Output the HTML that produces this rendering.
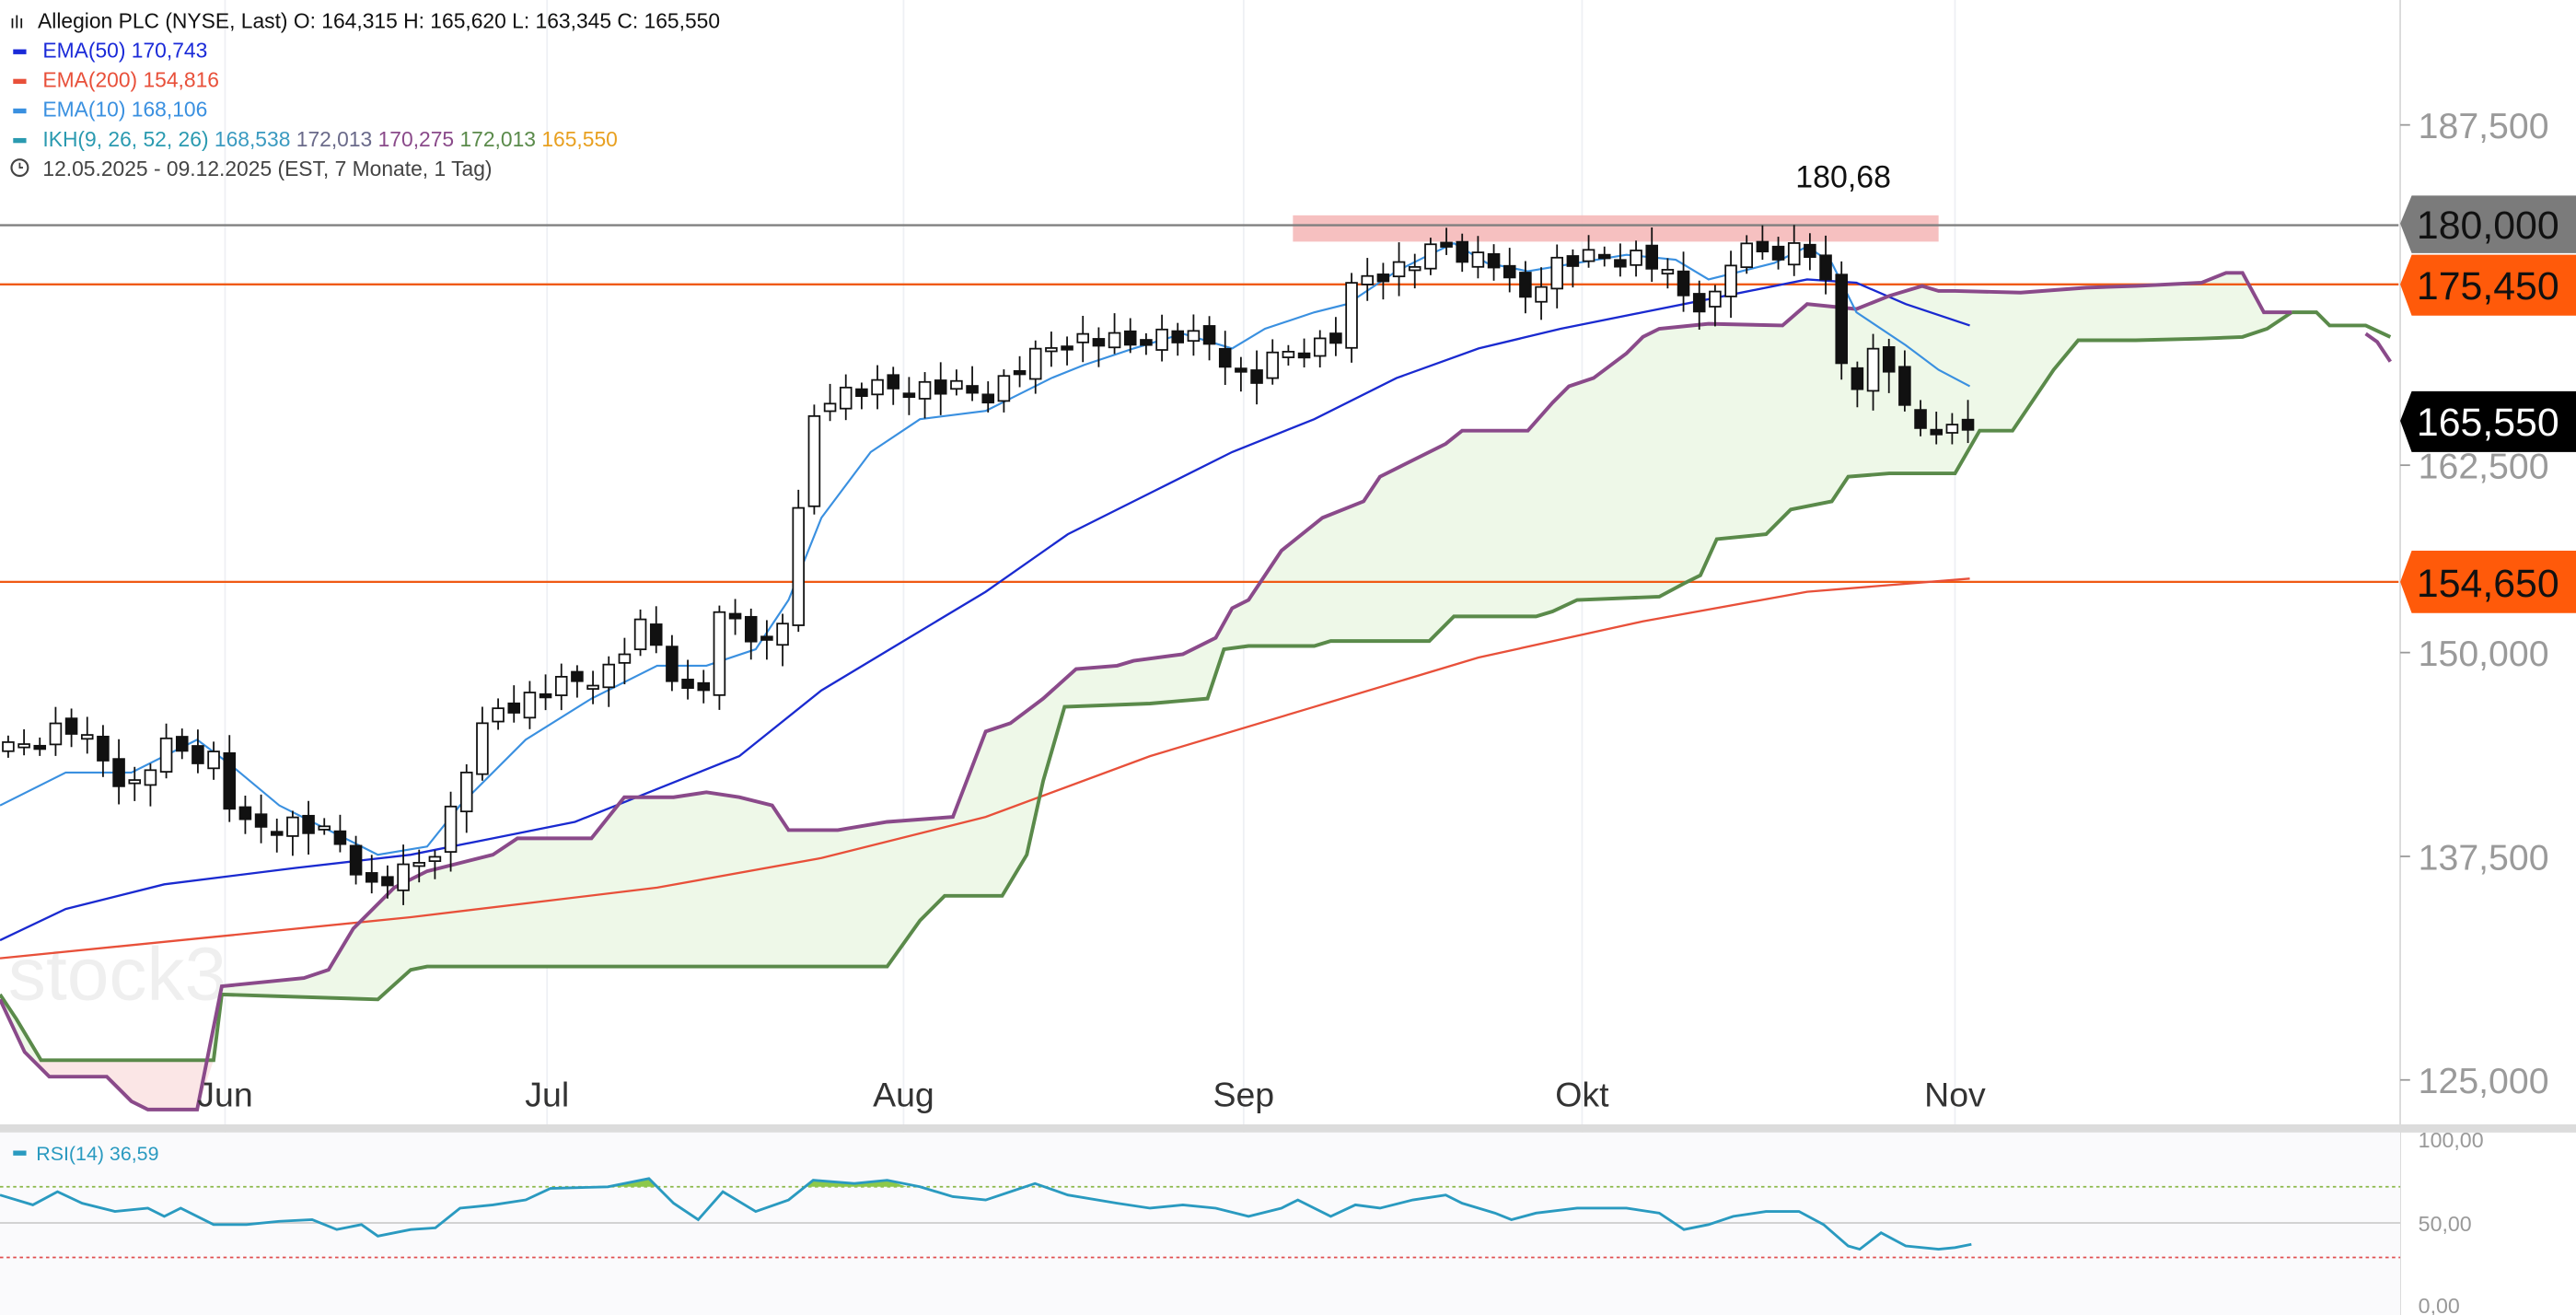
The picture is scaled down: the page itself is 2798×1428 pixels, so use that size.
<!DOCTYPE html>
<html><head><meta charset="utf-8"><style>
html,body{margin:0;padding:0;background:#fff;overflow:hidden}
svg{display:block;font-family:"Liberation Sans",sans-serif}
</style></head><body>
<svg id="s" width="2798" height="1428" viewBox="0 0 1568 800" preserveAspectRatio="none" xmlns="http://www.w3.org/2000/svg">
<rect width="1568" height="800" fill="#fff"/>
<g stroke="#eef0f4" stroke-width="1">
<line x1="137" y1="0" x2="137" y2="800"/><line x1="333" y1="0" x2="333" y2="800"/><line x1="550" y1="0" x2="550" y2="800"/><line x1="757" y1="0" x2="757" y2="800"/><line x1="963" y1="0" x2="963" y2="800"/><line x1="1190" y1="0" x2="1190" y2="800"/>
</g>
<text x="5" y="608" font-size="46" fill="#efefef">stock3</text>
<g id="cloud"></g>
<rect x="787" y="131" width="393" height="16" fill="#f5b5b5" opacity="0.85"/>
<line x1="0" y1="137" x2="1460" y2="137" stroke="#808080" stroke-width="1.3"/>
<line x1="0" y1="173" x2="1460" y2="173" stroke="#f05a14" stroke-width="1.3"/>
<line x1="0" y1="354" x2="1460" y2="354" stroke="#f05a14" stroke-width="1.3"/>
<g id="lines"></g>
<g id="candles"></g>
<text x="1122" y="114" font-size="19" text-anchor="middle" fill="#111">180,68</text>
<line x1="1461" y1="0" x2="1461" y2="800" stroke="#d8d8d8"/>
<g font-size="22" fill="#9a9a9a">
<text x="1472" y="84">187,500</text><text x="1472" y="291">162,500</text><text x="1472" y="405">150,000</text><text x="1472" y="529">137,500</text><text x="1472" y="665">125,000</text>
</g>
<g stroke="#999"><line x1="1461" y1="76" x2="1467" y2="76"/><line x1="1461" y1="283" x2="1467" y2="283"/><line x1="1461" y1="397" x2="1467" y2="397"/><line x1="1461" y1="521" x2="1467" y2="521"/><line x1="1461" y1="657" x2="1467" y2="657"/></g>
<polygon points="1468,119 1568,119 1568,154 1468,154 1461,136" fill="#7b7b7b"/>
<polygon points="1468,155 1568,155 1568,192 1468,192 1461,173" fill="#ff5a0a"/>
<polygon points="1468,238 1568,238 1568,275 1468,275 1461,256" fill="#000"/>
<polygon points="1468,335 1568,335 1568,373 1468,373 1461,354" fill="#ff5a0a"/>
<g font-size="24">
<text x="1471" y="145" fill="#111">180,000</text>
<text x="1471" y="182" fill="#111">175,450</text>
<text x="1471" y="265" fill="#fff">165,550</text>
<text x="1471" y="363" fill="#111">154,650</text>
</g>
<g font-size="21" fill="#333" text-anchor="middle">
<text x="137" y="673">Jun</text><text x="333" y="673">Jul</text><text x="550" y="673">Aug</text><text x="757" y="673">Sep</text><text x="963" y="673">Okt</text><text x="1190" y="673">Nov</text>
</g>
<rect x="0" y="684" width="1568" height="5" fill="#dcdcdc"/>
<rect x="0" y="689" width="1461" height="111" fill="#fafafc"/>
<line x1="0" y1="722" x2="1461" y2="722" stroke="#8cb84a" stroke-dasharray="2,2"/>
<line x1="0" y1="744" x2="1461" y2="744" stroke="#ccc"/>
<line x1="0" y1="765" x2="1461" y2="765" stroke="#e05050" stroke-dasharray="2,2"/>
<g id="rsi"></g>
<g font-size="13" fill="#999"><text x="1472" y="698">100,00</text><text x="1472" y="749">50,00</text><text x="1472" y="799">0,00</text></g>
<rect x="8" y="700" width="8" height="3" fill="#2a9ac0"/>
<text x="22" y="706" font-size="12" fill="#2a9ac0">RSI(14) 36,59</text>
<g font-size="12.8">
<text x="23" y="17" fill="#111">Allegion PLC (NYSE, Last)  O: 164,315  H: 165,620  L: 163,345  C: 165,550</text>
<text x="6" y="17" fill="#111" font-size="11">ılı</text>
<rect x="8" y="30" width="8" height="3" fill="#1a2ad8"/><text x="26" y="35" fill="#1a2ad8">EMA(50)  170,743</text>
<rect x="8" y="48" width="8" height="3" fill="#e8503a"/><text x="26" y="53" fill="#e8503a">EMA(200)  154,816</text>
<rect x="8" y="66" width="8" height="3" fill="#3a90e0"/><text x="26" y="71" fill="#3a90e0">EMA(10)  168,106</text>
<rect x="8" y="84" width="8" height="3" fill="#2a9ab0"/><text x="26" y="89" fill="#2a9ab0">IKH(9, 26, 52, 26) <tspan fill="#3a9ac0">168,538</tspan>  <tspan fill="#6a6a8a">172,013</tspan>  <tspan fill="#8a4a8a">170,275</tspan>  <tspan fill="#5a8a4a">172,013</tspan>  <tspan fill="#e8a020">165,550</tspan></text>
<circle cx="12" cy="102" r="5" fill="none" stroke="#444" stroke-width="1.2"/><path d="M12 99v3h2" stroke="#444" fill="none"/>
<text x="26" y="107" fill="#444">12.05.2025 - 09.12.2025  (EST, 7 Monate, 1 Tag)</text>
</g>
</svg>
<script>
const NS="http://www.w3.org/2000/svg";
function el(p,t,a){const e=document.createElementNS(NS,t);for(const k in a)e.setAttribute(k,a[k]);document.getElementById(p).appendChild(e);return e;}
const pts=a=>a.map(p=>p.join(",")).join(" ");
const A=[[0,608],[15,640],[30,655],[65,655],[80,670],[90,675],[120,675],[135,600],[185,595],[200,590],[215,565],[240,540],[260,530],[280,525],[300,520],[315,510],[360,510],[380,485],[410,485],[430,482],[450,485],[470,490],[480,505],[510,505],[540,500],[580,497],[600,445],[615,440],[635,425],[655,407],[680,405],[690,402],[720,398],[740,388],[750,370],[760,365],[780,335],[805,315],[830,305],[840,290],[880,270],[890,262],[930,262],[945,245],[955,235],[970,230],[990,215],[1000,205],[1010,200],[1040,197],[1085,198],[1100,185],[1130,188],[1150,180],[1170,174],[1180,177],[1190,177],[1230,178],[1270,175],[1300,174],[1340,172],[1355,166],[1365,166],[1378,190],[1395,190]];
const B=[[0,605],[10,620],[25,645],[130,645],[135,605],[230,608],[250,590],[260,588],[540,588],[560,560],[575,545],[610,545],[625,520],[635,475],[648,430],[700,428],[735,425],[745,395],[760,393],[800,393],[810,390],[870,390],[885,375],[935,375],[945,372],[960,365],[1010,363],[1025,355],[1035,350],[1045,328],[1075,325],[1090,310],[1115,305],[1125,290],[1150,288],[1190,288],[1205,262],[1225,262],[1250,225],[1265,207],[1300,207],[1340,206],[1365,205],[1380,200],[1395,190]];
el("cloud","polygon",{points:pts(A.concat(B.slice().reverse())),fill:"#eef8e8"});
el("cloud","polygon",{points:"22,645 130,645 120,675 90,675 80,670 65,655 30,655",fill:"#fbe6e6"});
const E200=[[0,583],[130,570],[250,558],[400,540],[500,522],[600,497],[700,460],[800,430],[900,400],[1000,378],[1100,360],[1199,352]];
const E50=[[0,572],[40,553],[100,538],[180,528],[250,520],[300,510],[350,500],[400,480],[450,460],[500,420],[550,390],[600,360],[650,325],[700,300],[750,275],[800,255],[850,230],[900,212],[950,200],[1000,190],[1050,180],[1100,170],[1130,172],[1160,185],[1199,198]];
const E10=[[0,490],[40,470],[80,470],[120,450],[140,465],[170,490],[200,505],[230,520],[260,515],[280,490],[320,450],[360,425],[400,405],[430,405],[460,395],[480,365],[500,315],[530,275],[560,255],[600,250],[620,240],[640,230],[660,222],[690,212],[720,203],[750,212],[770,200],[800,190],[820,185],[850,165],[870,155],[885,148],[905,160],[930,165],[960,160],[990,155],[1020,158],[1040,170],[1060,165],[1080,160],[1100,150],[1115,160],[1130,190],[1160,210],[1180,225],[1199,235]];
el("lines","polyline",{points:pts(E200),fill:"none",stroke:"#e8503a","stroke-width":1.3});
el("lines","polyline",{points:pts(E50),fill:"none",stroke:"#1a2ad0","stroke-width":1.3});
el("lines","polyline",{points:pts(B),fill:"none",stroke:"#5a8a4a","stroke-width":2.2});
el("lines","polyline",{points:"1395,190 1410,190 1418,198 1440,198 1455,205",fill:"none",stroke:"#5a8a4a","stroke-width":2.2});
el("lines","polyline",{points:pts(A),fill:"none",stroke:"#8a4a8a","stroke-width":2.2});
el("lines","polyline",{points:"1440,203 1447,208 1455,220",fill:"none",stroke:"#8a4a8a","stroke-width":2.2});
el("lines","polyline",{points:pts(E10),fill:"none",stroke:"#3a90e0","stroke-width":1.2});
const K=[[0,460],[40,440],[80,480],[100,455],[130,460],[145,505],[180,500],[210,515],[225,540],[250,530],[270,510],[278,480],[300,432],[335,420],[370,408],[392,380],[410,410],[425,430],[440,370],[470,395],[482,360],[490,270],[500,240],[560,235],[600,240],[620,225],[650,205],[690,210],[700,202],[740,210],[760,235],[780,215],[800,210],[815,205],[825,170],[860,160],[880,150],[910,160],[925,185],[945,160],[1000,155],[1030,185],[1045,180],[1055,155],[1100,150],[1110,170],[1125,240],[1140,215],[1152,225],[1162,262],[1180,258],[1190,262],[1199,258]];
function interp(a,x){for(let i=1;i<a.length;i++){if(x<=a[i][0]){const t=(x-a[i-1][0])/(a[i][0]-a[i-1][0]);return a[i-1][1]+t*(a[i][1]-a[i-1][1]);}}return a[a.length-1][1];}
let prev=interp(K,0);
for(let i=0;i<125;i++){
 const x=5+i*9.62;
 const c=interp(K,x)+((i*7)%5-2)*3;
 const o=prev+((i*3)%4-1.5)*2;
 const top=Math.min(o,c),bot=Math.max(o,c);
 const h=Math.max(bot-top,2);
 const hi=top-4-(i*5)%9,lo=bot+4+(i*11)%10;
 el("candles","line",{x1:x,y1:hi,x2:x,y2:lo,stroke:"#111","stroke-width":1});
 const up=c<o;
 el("candles","rect",{x:x-3.3,y:top,width:6.6,height:h,fill:up?"#fff":"#111",stroke:"#111","stroke-width":1});
 prev=c;
}
const R=[[0,727],[20,733],[35,725],[50,732],[70,737],[90,735],[100,740],[110,735],[130,745],[150,745],[170,743],[190,742],[205,748],[220,745],[230,752],[250,748],[265,747],[280,735],[300,733],[320,730],[335,723],[370,722],[395,717],[410,732],[425,742],[440,725],[460,737],[480,730],[495,718],[520,720],[540,718],[560,722],[580,728],[600,730],[615,725],[630,720],[650,727],[680,732],[700,735],[720,733],[740,735],[760,740],[780,735],[790,730],[810,740],[825,733],[840,735],[860,730],[880,727],[890,732],[910,738],[920,742],[935,738],[960,735],[990,735],[1010,738],[1025,748],[1040,745],[1055,740],[1075,737],[1095,737],[1110,745],[1125,758],[1132,760],[1145,750],[1160,758],[1180,760],[1190,759],[1200,757]];
el("rsi","polygon",{points:"370,722 395,717 400,722",fill:"#8cc84a"});
el("rsi","polygon",{points:"490,722 495,718 520,720 540,718 552,722",fill:"#8cc84a"});
el("rsi","polyline",{points:pts(R),fill:"none",stroke:"#2a9ac0","stroke-width":1.6});
</script>
</body></html>
